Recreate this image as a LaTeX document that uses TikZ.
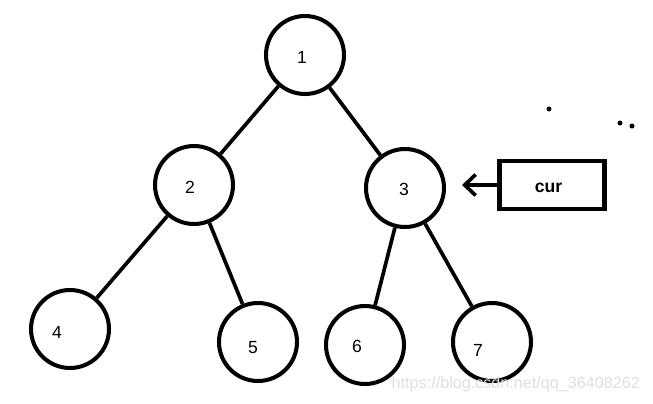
\documentclass[tikz,border=0pt]{standalone}
\usepackage{fontspec}
\setmainfont{Liberation Sans}
\usetikzlibrary{positioning, arrows.meta}

\begin{document}
\begin{tikzpicture}
			[x=0.02cm, y=-0.02cm,
			vertex/.style={draw, circle, line width=2.3pt, minimum size=1.56cm, inner sep=0pt, font=\fontsize{11.5}{13}\selectfont},
			edge/.style={line width=2.1pt}]
		\path[use as bounding box, fill=white] (0,0) rectangle (653,403);
		% nodes %
		\node[vertex, label={[xshift=-0.06cm, yshift=-0.04cm]center:1}] (a) at (305,55) {};
		\node[vertex, label={[xshift=-0.08cm, yshift=-0.04cm]center:2}] (b) at (194,185) {};
		\node[vertex, label={[xshift=-0.02cm, yshift=-0.02cm]center:3}] (c) at (405,188) {};
		\node[vertex, label={[xshift=-0.26cm, yshift=-0.06cm]center:4}] (d) at (70,329) {};
		\node[vertex, label={[xshift=-0.10cm, yshift=-0.12cm]center:5}] (e) at (258,342) {};
		\node[vertex, label={[xshift=-0.16cm, yshift=-0.02cm]center:6}] (f) at (365,345) {};
		\node[vertex, label={[xshift=-0.28cm, yshift=-0.16cm]center:7}] (g) at (492,342) {};
		\node[draw, line width=2.3pt, minimum width=2.1cm, minimum height=0.96cm, font=\bfseries\fontsize{10}{12}\selectfont, text depth=0pt] (cur) at (552,185) {\raisebox{-0.1cm}{\hspace{-0.14cm}cur}};
 
		% edges %
		\draw[edge] (a) -- (b);
		\draw[edge] (a) -- (c);
		\draw[edge] (b) -- (d);
		\draw[edge] (b) -- (e);
		\draw[edge] (c) -- (f);
		\draw[edge] (c) -- (g);
		\draw[edge, -{Straight Barb[length=0.22cm, width=0.42cm]}, shorten >=0.32cm] (cur.west) -- (c.east |- cur.west);

		% dots %
		\fill (549,109) circle (2.5);
		\fill (620,123) circle (2.5);
		\fill (632,126) circle (2.5);

		\node[text=gray!25, font=\fontsize{9.2}{11}\selectfont, anchor=east] (mark) at (646,384) {https://blog.csdn.net/qq\_36408262};
		\end{tikzpicture}
\end{document}
